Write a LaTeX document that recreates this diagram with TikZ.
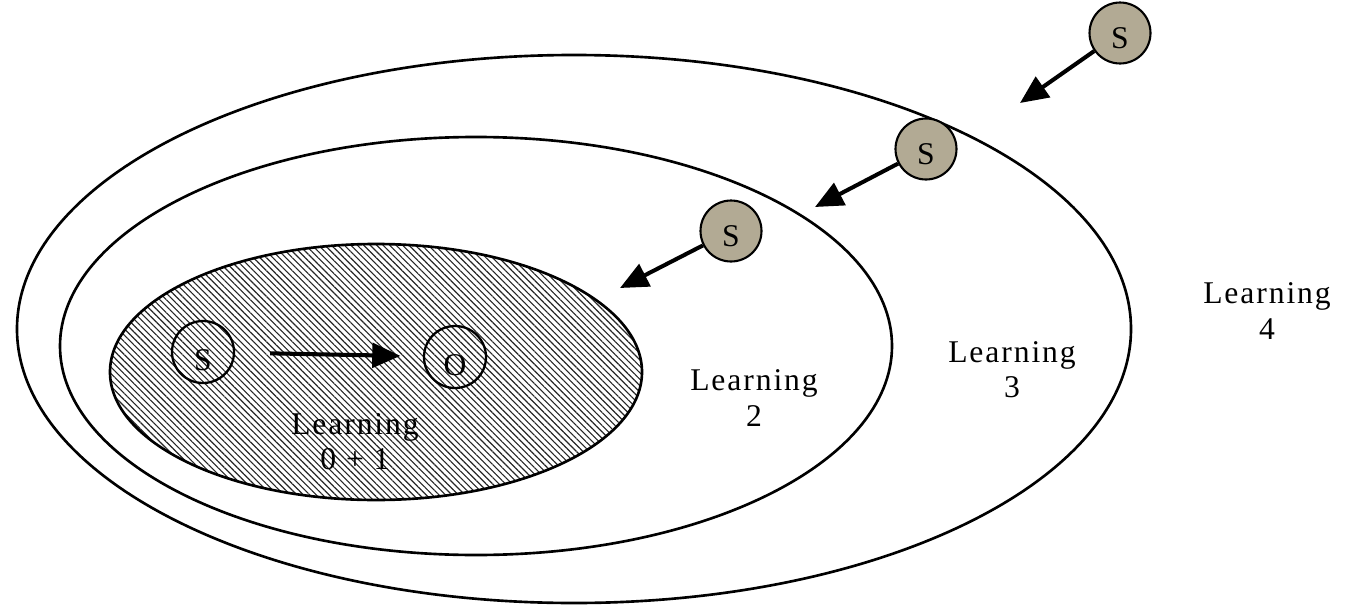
\documentclass[tikz,border=0pt]{standalone}
\usepackage{fontspec}
\setmainfont{Liberation Serif}[LetterSpace=6.0]
\usetikzlibrary{arrows.meta,patterns.meta}
\definecolor{stone}{RGB}{178,170,148}
\tikzset{
  ring/.style={draw,line width=1.5pt},
  hatch/.style={pattern={Lines[angle=-45,distance=2.6pt,line width=0.65pt]},pattern color=black!85},
  ball/.style={circle,draw,line width=1.2pt,fill=stone,minimum size=1.22cm,inner sep=0pt,font=\fontsize{18}{18}\selectfont},
  hole/.style={circle,draw,line width=1.3pt,minimum size=1.24cm,inner sep=0pt,font=\fontsize{18}{18}\selectfont},
  push/.style={line width=2.3pt,-{Triangle[length=16pt,width=14pt]}},
  tag/.style={align=center,font=\fontsize{18}{20}\selectfont}
}
\newcommand{\low}[2][-0.5em]{\raisebox{#1}[0pt][0pt]{#2}}
\begin{document}
\begin{tikzpicture}[x=0.02cm,y=-0.02cm]
  \useasboundingbox (0,0) rectangle (1349,605);
  % learning areas
  \draw[ring] (574,329) ellipse (557 and 274);
  \draw[ring] (476,346) ellipse (416 and 209);
  \draw[ring,hatch] (376,372) ellipse (266 and 128);
  % stimulus and response
  \node[hole] (sin) at (203,352) {\low[-0.6em]{S}};
  \node[hole] (oin) at (455,357) {\low[-0.6em]{O}};
  \draw[push,shorten <=0.7cm,shorten >=0.45cm] (sin) -- (oin);
  % new stimuli
  \node[ball] (s4) at (1120,33) {\low{S}};
  \node[ball] (s3) at (926,149) {\low{S}};
  \node[ball] (s2) at (731,231) {\low{S}};
  \path
  (1020,103) coordinate (e4)
  (815,207) coordinate (e3)
  (620,288) coordinate (e2);
  \draw[push] (s4) -- (e4);
  \draw[push] (s3) -- (e3);
  \draw[push] (s2) -- (e2);
  % labels
  \node[tag] (l1) at (355,442) {Learning\\0 + 1};
  \node[tag] (l2) at (754,398) {Learning\\2};
  \node[tag] (l3) at (1012,370) {Learning\\3};
  \node[tag] (l4) at (1267,311) {Learning\\4};
\end{tikzpicture}
\end{document}
